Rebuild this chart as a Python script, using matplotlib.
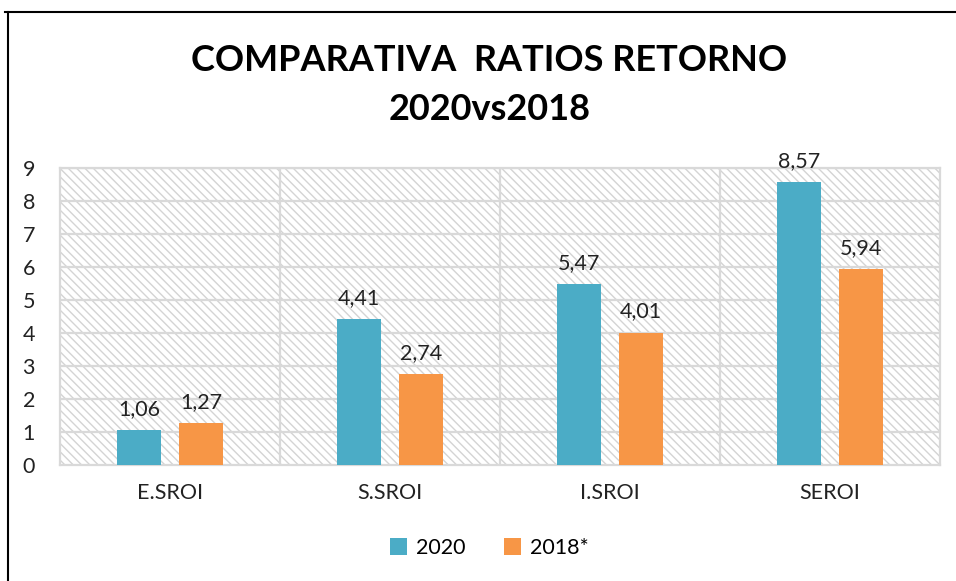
import numpy as np
import matplotlib.pyplot as plt
from matplotlib.patches import Rectangle
from matplotlib.lines import Line2D

# datos
categorias = ["E.SROI", "S.SROI", "I.SROI", "SEROI"]
valores_2020 = [1.06, 4.41, 5.47, 8.57]
valores_2018 = [1.27, 2.74, 4.01, 5.94]
series = ["2020", "2018*"]
colores = ["#4bacc6", "#f79646"]

plt.rcParams['font.family'] = ['Lato', 'DejaVu Sans']

fig = plt.figure(figsize=(9.56, 5.81), dpi=100)
ax = fig.add_axes([0.0628, 0.1997, 0.9205, 0.5115])

x = np.arange(len(categorias))
ancho = 0.2
desp = 0.141

# fondo rayado
ax.add_patch(Rectangle((0, 0), 1, 1, transform=ax.transAxes, facecolor="white",
                       edgecolor="#d4d4d4", hatch="\\\\\\\\", lw=0, zorder=0))

b1 = ax.bar(x - desp, valores_2020, ancho, color=colores[0], label=series[0], zorder=3)
b2 = ax.bar(x + desp, valores_2018, ancho, color=colores[1], label=series[1], zorder=3)

for barras in (b1, b2):
    ax.bar_label(barras, labels=[f"{v:.2f}".replace(".", ",") for v in barras.datavalues],
                 padding=8, fontsize=15.5, color="#222222")

ax.set_xlim(-0.5, 3.5)
ax.set_ylim(0, 9)
ax.set_yticks(range(10))
ax.set_xticks(x)
ax.set_xticklabels(categorias)
ax.tick_params(axis="both", length=0, labelsize=15.5, colors="#222222")
ax.tick_params(axis="y", pad=18)
ax.tick_params(axis="x", pad=13)

for y in range(1, 10):
    ax.axhline(y, color="#d9d9d9", lw=1.6, zorder=1)
for xv in [0.5, 1.5, 2.5]:
    ax.axvline(xv, color="#d9d9d9", lw=1.6, zorder=1)
for s in ax.spines.values():
    s.set_color("#d9d9d9")
    s.set_linewidth(1.6)

fig.text(0.512, 0.896, "COMPARATIVA  RATIOS RETORNO", ha="center", va="center",
         fontsize=26, fontweight="bold")
fig.text(0.512, 0.812, "2020vs2018", ha="center", va="center",
         fontsize=26, fontweight="bold")

fig.legend(handles=[b1, b2], labels=series, loc="center", bbox_to_anchor=(0.512, 0.057),
           ncol=2, frameon=False, fontsize=15.5, handlelength=0.8, handleheight=0.8,
           columnspacing=1.8, handletextpad=0.4)

# marco
fig.add_artist(Line2D([0.008, 0.008], [0, 0.98], transform=fig.transFigure, color="black", lw=1.5))
fig.add_artist(Line2D([0.005, 1], [0.98, 0.98], transform=fig.transFigure, color="black", lw=1.5))

fig.savefig("out.png", dpi=100)
